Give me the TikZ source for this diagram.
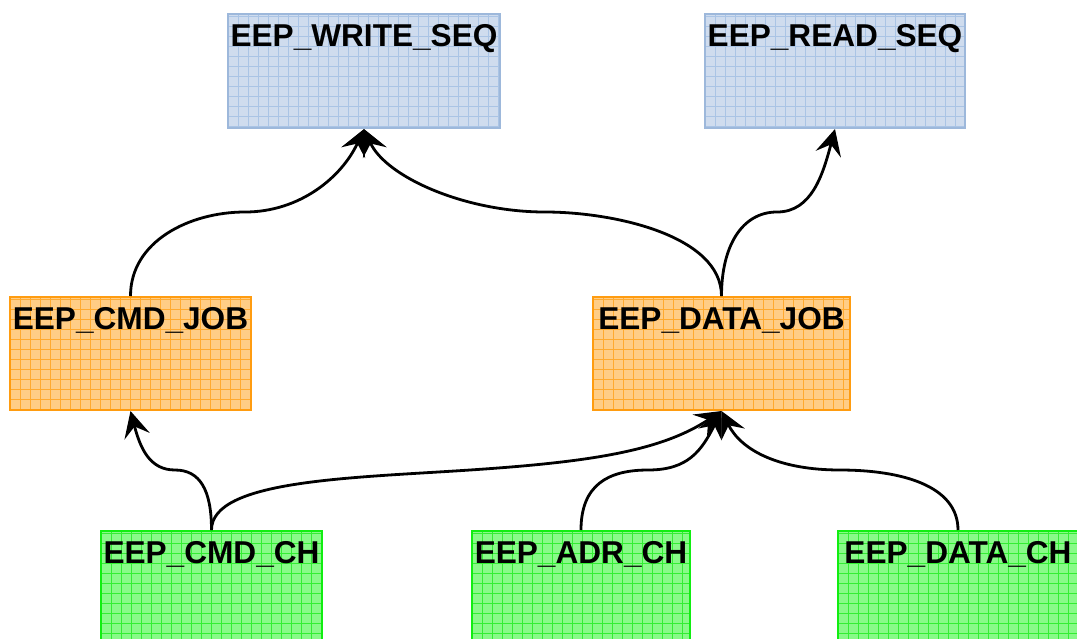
\documentclass[tikz,border=0pt]{standalone}
\usepackage{fontspec}
\setmainfont{Liberation Sans}
\usetikzlibrary{arrows.meta}
\definecolor{bfill}{HTML}{CFDCEE}
\definecolor{bgrid}{HTML}{AAC4E5}
\definecolor{bline}{HTML}{9DB8DB}
\definecolor{ofill}{HTML}{FFCD86}
\definecolor{ogrid}{HTML}{FFAA30}
\definecolor{oline}{HTML}{FF9C10}
\definecolor{gfill}{HTML}{88FA88}
\definecolor{ggrid}{HTML}{33EE33}
\definecolor{gline}{HTML}{11EE11}
\tikzset{
  gbox/.style n args={3}{draw=#3, fill=#1, line width=2pt, inner sep=0pt,
    text height=32pt, align=center, font=\fontsize{31.6}{36}\selectfont\bfseries,
    path picture={\draw[#2, line width=0.8pt, step=10pt]
      (path picture bounding box.south west) grid (path picture bounding box.north east);}},
  bluebox/.style={gbox={bfill}{bgrid}{bline}},
  orangebox/.style={gbox={ofill}{ogrid}{oline}},
  greenbox/.style={gbox={gfill}{ggrid}{gline}},
  tipstyle/.tip={Stealth[length=26pt,width=26pt,inset=10pt]},
  conn/.style={line width=2.8pt, -tipstyle},
}
\begin{document}
\begin{tikzpicture}[x=1pt,y=-1pt]
\useasboundingbox (0,0) rectangle (1077,638);
\node[bluebox, text width=272pt, text depth=82pt] (ws) at (364,13) [anchor=north] {EEP\_WRITE\_SEQ};
\node[bluebox, text width=260pt, text depth=82pt] (rs) at (835,13) [anchor=north] {EEP\_READ\_SEQ};
\node[orangebox, text width=241pt, text depth=81pt] (cj) at (130.5,296) [anchor=north] {EEP\_CMD\_JOB};
\node[orangebox, text width=257pt, text depth=81pt] (dj) at (721.5,296) [anchor=north] {EEP\_DATA\_JOB};
\node[greenbox, text width=221pt, text depth=82pt] (cc) at (211.5,530) [anchor=north] {EEP\_CMD\_CH};
\node[greenbox, text width=218pt, text depth=82pt] (ac) at (581,530) [anchor=north] {EEP\_ADR\_CH};
\node[greenbox, text width=240pt, text depth=82pt] (dc) at (958,530) [anchor=north] {EEP\_DATA\_CH};
\coordinate (m1) at (245,212);
\coordinate (m2) at (545,212);
\coordinate (m3) at (777,212);
\coordinate (m4) at (175,470);
\coordinate (m5) at (470,470);
\coordinate (m6) at (648,470);
\coordinate (m7) at (840,470);
\draw[conn] (cj.north) .. controls +(0,-55) and +(-55,0) .. (m1)
  .. controls +(55,0) and +(-22,48) .. (ws.south);
\draw[conn] (dj.north) .. controls +(0,-60) and +(70,0) .. (m2)
  .. controls +(-80,0) and +(22,48) .. (ws.south);
\draw[conn] (dj.north) .. controls +(0,-50) and +(-35,0) .. (m3)
  .. controls +(35,0) and +(-12,45) .. (rs.south);
\draw[conn] (cc.north) .. controls +(0,-40) and +(25,0) .. (m4)
  .. controls +(-25,0) and +(10,38) .. (cj.south);
\draw[conn] (cc.north) .. controls +(0,-50) and +(-120,8) .. (m5)
  .. controls +(120,-8) and +(-60,40) .. (dj.south);
\draw[conn] (ac.north) .. controls +(0,-45) and +(-40,0) .. (m6)
  .. controls +(40,0) and +(-20,40) .. (dj.south);
\draw[conn] (dc.north) .. controls +(0,-45) and +(60,0) .. (m7)
  .. controls +(-60,0) and +(20,40) .. (dj.south);
\end{tikzpicture}
\end{document}
